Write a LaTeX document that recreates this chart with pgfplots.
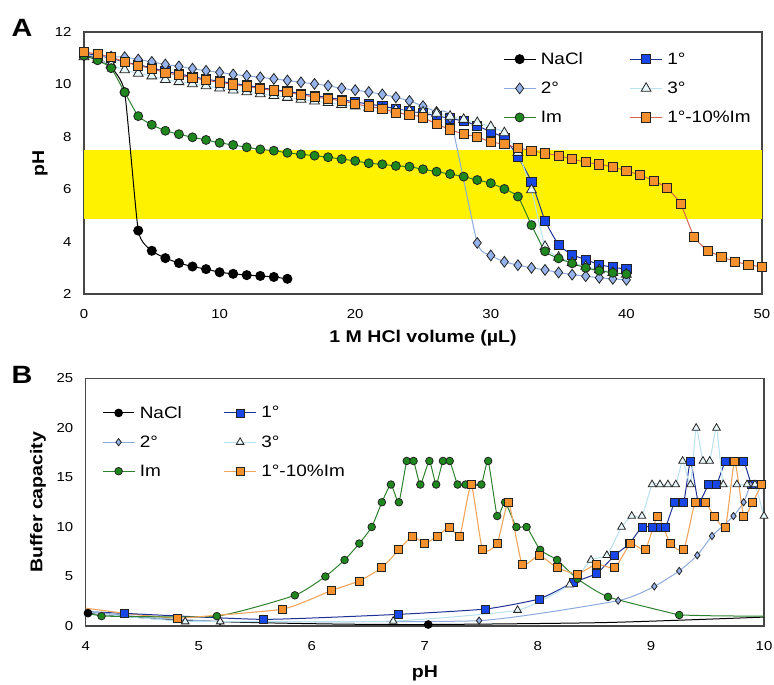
\documentclass[border=0pt]{standalone}
\usepackage{pgfplots}
\pgfplotsset{compat=1.18}
\usepackage{fontspec}
\setmainfont{Liberation Sans}[FakeStretch=1.15]
\definecolor{cOneF}{RGB}{25,70,230}
\definecolor{cOneL}{RGB}{30,50,150}
\definecolor{cTwoF}{RGB}{150,180,235}
\definecolor{cTwoL}{RGB}{140,170,220}
\definecolor{cThrF}{RGB}{232,248,250}
\definecolor{cThrL}{RGB}{185,225,240}
\definecolor{cImF}{RGB}{30,135,30}
\definecolor{cImL}{RGB}{45,130,45}
\definecolor{cOrF}{RGB}{245,145,45}
\definecolor{cOrLA}{RGB}{210,100,80}
\definecolor{cOrLB}{RGB}{240,165,90}
\definecolor{edge}{RGB}{35,35,35}
\definecolor{frame}{RGB}{70,70,70}
\pgfplotsset{
 myaxis/.style={scale only axis, axis line style={draw=frame, line width=1.1pt},
   major tick length=0pt,
   tick label style={font=\fontsize{13}{15}\selectfont},
   /pgf/number format/assume math mode=true,
   yticklabel style={xshift=-9pt}, xticklabel style={yshift=-12pt},
   legend columns=2, legend cell align=left,
   legend image code/.code={\draw[mark repeat=2,mark phase=2] plot coordinates {(0cm,0cm)(0.55cm,0cm)(1.1cm,0cm)};},
   label style={font=\fontsize{17}{20}\selectfont\bfseries}},
 sNa/.style={color=black, line width=1pt, smooth, tension=0.3, mark=*, mark size=4.5pt, mark options={fill=black, draw=black}},
 sOne/.style={color=cOneL, line width=1pt, smooth, tension=0.3, mark=square*, mark size=4.6pt, mark options={fill=cOneF, draw=edge, line width=0.8pt}},
 sTwo/.style={color=cTwoL, line width=1pt, smooth, tension=0.3, mark=diamond*, mark size=5.4pt, mark options={fill=cTwoF, draw=edge, line width=0.8pt}},
 sThr/.style={color=cThrL, line width=1pt, smooth, tension=0.3, mark=triangle*, mark size=5.7pt, mark options={fill=cThrF, draw=edge, line width=0.8pt}},
 sIm/.style={color=cImL, line width=1pt, smooth, tension=0.3, mark=*, mark size=4.5pt, mark options={fill=cImF, draw=edge, line width=0.8pt}},
 sOrA/.style={color=cOrLA, line width=1pt, smooth, tension=0.3, mark=square*, mark size=4.6pt, mark options={fill=cOrF, draw=edge, line width=0.8pt}},
 sOrB/.style={color=cOrLB, line width=1.1pt, smooth, tension=0.3, mark=square*, mark size=4pt, mark options={fill=cOrF, draw=edge, line width=0.8pt}},
}
\begin{document}
\begin{tikzpicture}
% ---------------- Panel A ----------------
\begin{axis}[myaxis, at={(84pt,-294pt)}, anchor=south west, width=678pt, height=262pt,
  xmin=0, xmax=50, ymin=2, ymax=12, xtick={0,10,...,50}, ytick={2,4,...,12},
  xlabel={1 M HCl volume (µL)}, ylabel={pH},
  xlabel style={at={(axis description cs:0.5,-0.168)}, anchor=center},
  ylabel style={at={(axis description cs:-0.065,0.5)}, anchor=center},
  legend style={at={(0.614,0.938)}, anchor=north west, draw=none, fill=none,
    font=\fontsize{16.5}{19}\selectfont, row sep=12pt,
    /tikz/every odd column/.append style={column sep=3pt},
    /tikz/every even column/.append style={column sep=45pt}}]
\addplot[draw=none, fill=yellow, forget plot] coordinates {(0,4.85) (0,7.5) (50,7.5) (50,4.85)} -- cycle;
\addplot[sNa] coordinates {(0,11.1)(1,11.0)(2,10.65)(3,9.7)(4,4.42)(5,3.65)(6,3.37)(7,3.18)(8,3.05)(9,2.95)(10,2.83)(11,2.77)(12,2.72)(13,2.69)(14,2.65)(15,2.58)};
\addlegendentry{NaCl}
\addplot[sOne] coordinates {(0,11.2)(1,11.1)(2,11.0)(3,10.85)(4,10.75)(5,10.63)(6,10.5)(7,10.4)(8,10.3)(9,10.2)(10,10.12)(11,10.04)(12,9.96)(13,9.88)(14,9.8)(15,9.73)(16,9.65)(17,9.57)(18,9.5)(19,9.42)(20,9.33)(21,9.25)(22,9.17)(23,9.07)(24,8.98)(25,8.9)(26,8.8)(27,8.7)(28,8.6)(29,8.42)(30,8.19)(31,7.95)(32,7.24)(33,6.29)(34,4.8)(35,3.88)(36,3.5)(37,3.31)(38,3.12)(39,3.02)(40,2.95)};
\addlegendentry{1°}
\addplot[sTwo] coordinates {(0,11.1)(1,11.08)(2,11.06)(3,11.04)(4,10.95)(5,10.86)(6,10.76)(7,10.69)(8,10.6)(9,10.52)(10,10.46)(11,10.38)(12,10.33)(13,10.27)(14,10.21)(15,10.15)(16,10.08)(17,10.02)(18,9.95)(19,9.85)(20,9.78)(21,9.71)(22,9.62)(23,9.51)(24,9.37)(25,9.17)(26,8.95)(27,8.74)(29,3.95)(30,3.47)(31,3.23)(32,3.1)(33,3.0)(34,2.92)(35,2.82)(36,2.74)(37,2.68)(38,2.62)(39,2.58)(40,2.54)};
\addlegendentry{2°}
\addplot[sThr] coordinates {(0,11.05)(1,10.95)(2,10.75)(3,10.55)(4,10.42)(5,10.32)(6,10.18)(7,10.1)(8,10.02)(9,9.94)(10,9.86)(11,9.78)(12,9.71)(13,9.64)(14,9.57)(15,9.5)(16,9.43)(17,9.36)(18,9.3)(19,9.23)(20,9.17)(21,9.12)(22,9.07)(23,9.03)(24,8.99)(25,8.94)(26,8.89)(27,8.78)(28,8.66)(29,8.54)(30,8.38)(31,8.15)(32,7.4)(33,5.97)(34,3.81)(35,3.4)(36,3.2)(37,3.05)(38,2.92)(39,2.82)(40,2.75)};
\addlegendentry{3°}
\addplot[sIm] coordinates {(0,11.1)(1,10.92)(2,10.62)(3,9.7)(4,8.79)(5,8.46)(6,8.23)(7,8.1)(8,7.98)(9,7.88)(10,7.77)(11,7.69)(12,7.6)(13,7.52)(14,7.47)(15,7.39)(16,7.33)(17,7.28)(18,7.22)(19,7.15)(20,7.08)(21,6.99)(22,6.95)(23,6.89)(24,6.86)(25,6.76)(26,6.67)(27,6.58)(28,6.48)(29,6.35)(30,6.23)(31,6.01)(32,5.72)(33,4.63)(34,3.63)(35,3.36)(36,3.17)(37,3.0)(38,2.89)(39,2.81)(40,2.76)};
\addlegendentry{Im}
\addplot[sOrA] coordinates {(0,11.25)(1,11.15)(2,11.05)(3,10.85)(4,10.72)(5,10.6)(6,10.45)(7,10.35)(8,10.25)(9,10.16)(10,10.08)(11,10.0)(12,9.92)(13,9.84)(14,9.77)(15,9.7)(16,9.6)(17,9.52)(18,9.45)(19,9.37)(20,9.26)(21,9.16)(22,9.08)(23,8.92)(24,8.85)(25,8.74)(26,8.48)(27,8.28)(28,8.1)(29,8.0)(30,7.8)(31,7.72)(32,7.58)(33,7.47)(34,7.37)(35,7.28)(36,7.15)(37,7.03)(38,6.95)(39,6.85)(40,6.7)(41,6.54)(42,6.33)(43,6.04)(44,5.44)(45,4.17)(46,3.66)(47,3.43)(48,3.24)(49,3.12)(50,3.03)};
\addlegendentry{1°-10\%Im}
\end{axis}
% ---------------- Panel B ----------------
\begin{axis}[myaxis, at={(85.7pt,-626pt)}, anchor=south west, width=678.3pt, height=247.5pt,
  xmin=4, xmax=10, ymin=0, ymax=25, xtick={4,...,10}, ytick={0,5,...,25},
  xlabel={pH}, ylabel={Buffer capacity},
  xlabel style={at={(axis description cs:0.5,-0.19)}, anchor=center},
  ylabel style={at={(axis description cs:-0.0703,0.5)}, anchor=center},
  legend style={at={(0.02,0.905)}, anchor=north west, draw=none, fill=none,
    font=\fontsize{16.5}{19}\selectfont, row sep=12pt,
    /tikz/every odd column/.append style={column sep=3pt},
    /tikz/every even column/.append style={column sep=40pt}}]
% unmarked parts of the curves
\addplot[black, line width=1pt, smooth, tension=0.4, forget plot] coordinates {(4.02,1.3)(4.6,0.75)(5.3,0.4)(6.2,0.2)(7.03,0.15)(8.6,0.35)(10.0,0.9)};
\addplot[cOneL, line width=1pt, forget plot] coordinates {(4.0,1.45)(4.34,1.28)};
\addplot[cTwoL, line width=1pt, smooth, tension=0.3, forget plot] coordinates {(4.0,1.5)(4.6,0.8)(5.19,0.45)};
\addplot[cThrL, line width=1pt, smooth, tension=0.3, forget plot] coordinates {(4.0,1.4)(4.4,0.9)(4.88,0.44)};
\addplot[cImL, line width=1pt, forget plot] coordinates {(4.0,1.3)(4.14,1.0)};
\addplot[cImL, line width=1pt, smooth, tension=0.3, forget plot] coordinates {(9.25,1.11)(9.6,1.02)(10.0,1.0)};
\addplot[cOrLB, line width=1.1pt, smooth, tension=0.3, forget plot] coordinates {(4.0,1.8)(4.4,1.2)(4.81,0.77)};
% series
\addplot[sNa, mark size=3.8pt, only marks,
  legend image code/.code={\draw[black,line width=1pt] (0cm,0cm) -- (1.1cm,0cm); \draw[mark repeat=2,mark phase=2] plot coordinates {(0cm,0cm)(0.55cm,0cm)(1.1cm,0cm)};}]
  coordinates {(4.02,1.3)(7.03,0.15)};
\addlegendentry{NaCl}
\addplot[sOne, mark size=4pt] coordinates {(4.34,1.28)(5.57,0.67)(6.77,1.18)(7.54,1.72)(8.01,2.73)(8.31,4.38)(8.52,5.32)(8.68,7.14)(8.81,8.33)(8.92,10)(9.01,10)(9.08,10)(9.13,10)(9.21,12.5)(9.29,12.5)(9.35,16.67)(9.42,12.5)(9.51,14.29)(9.58,14.29)(9.66,16.67)(9.74,16.67)(9.82,16.67)(9.89,14.29)(9.96,14.29)};
\addlegendentry{1°}
\addplot[sTwo, mark size=3.6pt] coordinates {(5.19,0.45)(7.48,0.54)(8.71,2.56)(9.03,4.0)(9.25,5.56)(9.41,7.14)(9.54,9.09)(9.73,11.11)(9.82,12.5)(9.88,14.29)};
\addlegendentry{2°}
\addplot[sThr, mark size=4.4pt] coordinates {(4.88,0.44)(5.19,0.44)(6.72,0.5)(7.82,1.6)(8.28,4.17)(8.47,6.67)(8.61,7.14)(8.74,10)(8.83,11.11)(8.92,11.11)(9.01,14.29)(9.08,14.29)(9.15,14.29)(9.22,14.29)(9.28,16.67)(9.35,14.29)(9.40,20)(9.46,16.67)(9.52,16.67)(9.58,20)(9.64,14.29)(9.76,14.29)(9.85,14.29)(9.92,14.29)(10.0,11.11)};
\addlegendentry{3°}
\addplot[sIm, mark size=3.8pt] coordinates {(4.14,1.0)(5.16,1.0)(5.85,3.1)(6.12,5.0)(6.29,6.67)(6.42,8.33)(6.53,10.0)(6.62,12.5)(6.70,14.29)(6.77,12.5)(6.84,16.67)(6.90,16.67)(6.96,14.29)(7.04,16.67)(7.10,14.29)(7.16,16.67)(7.22,16.67)(7.29,14.29)(7.36,14.29)(7.42,14.29)(7.50,14.29)(7.56,16.67)(7.64,11.11)(7.71,12.5)(7.81,10.0)(7.90,10.0)(8.02,7.69)(8.17,6.67)(8.35,4.76)(8.62,2.94)(9.25,1.11)};
\addlegendentry{Im}
\addplot[sOrB] coordinates {(4.81,0.77)(5.74,1.7)(6.17,3.57)(6.42,4.55)(6.62,5.9)(6.77,7.69)(6.89,9.09)(7.0,8.33)(7.11,9.09)(7.22,10.0)(7.31,9.09)(7.41,14.29)(7.51,7.69)(7.64,8.33)(7.74,12.5)(7.86,6.25)(8.01,7.14)(8.17,5.88)(8.35,5.26)(8.52,6.25)(8.68,5.88)(8.82,8.33)(8.95,7.69)(9.06,11.11)(9.17,8.33)(9.29,7.69)(9.39,12.5)(9.48,12.5)(9.56,11.11)(9.66,10.0)(9.74,16.67)(9.82,11.11)(9.90,12.5)(9.98,14.29)};
\addlegendentry{1°-10\%Im}
\end{axis}
\node[font=\fontsize{25}{28}\selectfont\bfseries] at (22pt,-27.5pt) {A};
\node[font=\fontsize{25}{28}\selectfont\bfseries] at (22pt,-375pt) {B};
\pgfresetboundingbox
\path[use as bounding box] (0,0) rectangle (774pt,-685pt);
\end{tikzpicture}
\end{document}
